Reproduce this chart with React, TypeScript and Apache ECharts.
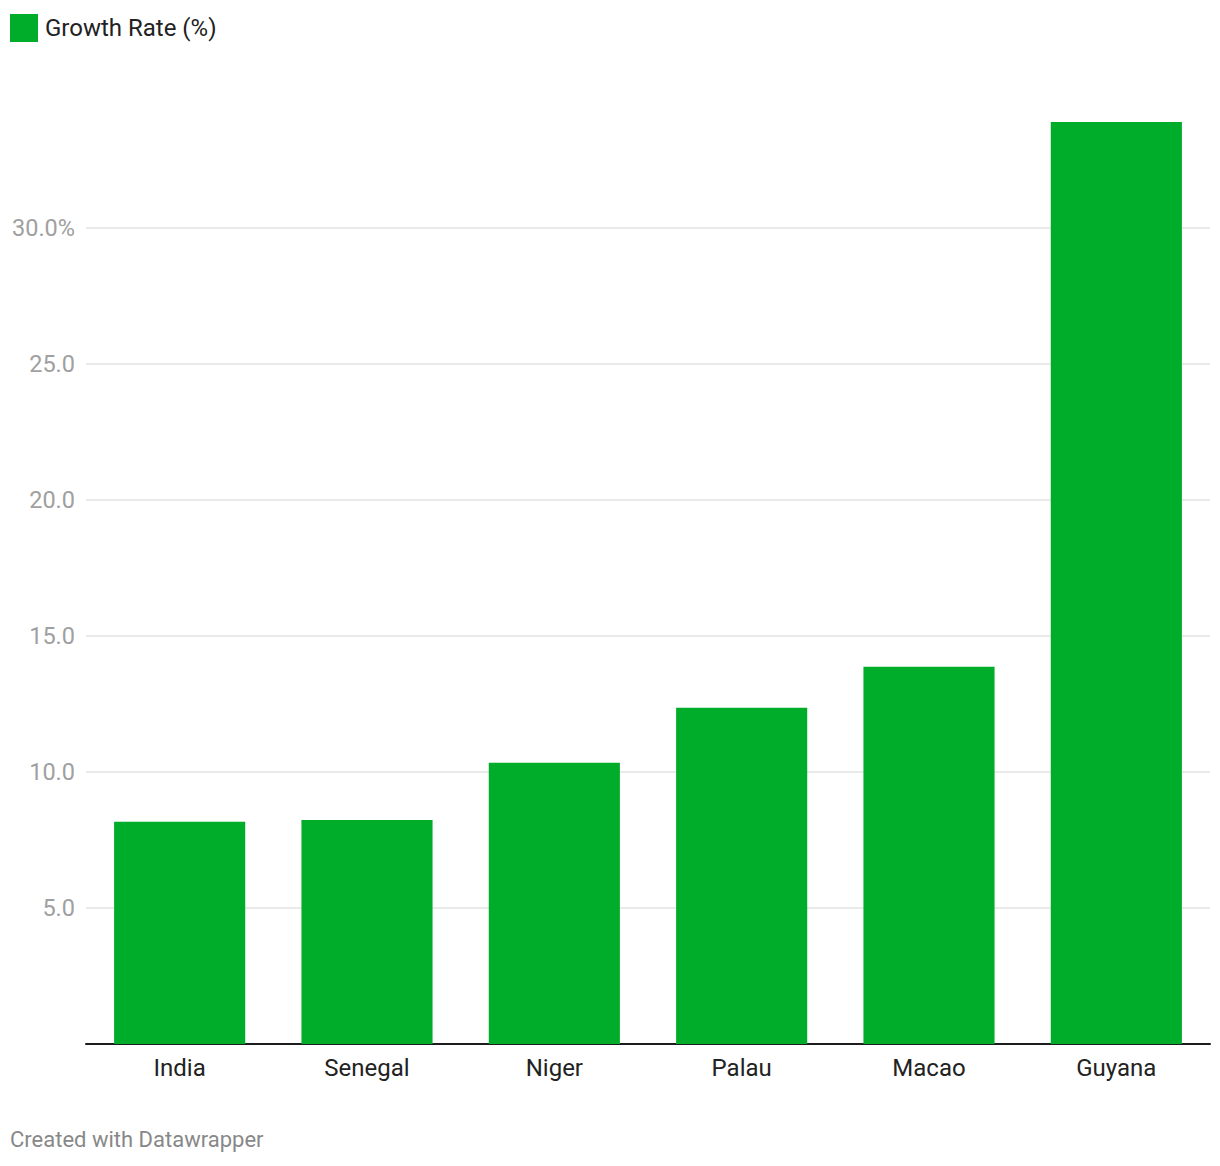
import React, { useEffect, useRef } from "react";
import * as echarts from "echarts";

const categories = ["India", "Senegal", "Niger", "Palau", "Macao", "Guyana"];
const growthRate = [8.17, 8.24, 10.34, 12.36, 13.87, 33.9];
const seriesName = "Growth Rate (%)";
const footerText = "Created with Datawrapper";

export default function App() {
  const ref = useRef<HTMLDivElement>(null);
  useEffect(() => {
    document.body.style.margin = "0";
    const chart = echarts.init(ref.current!, null, { renderer: "svg" });
    const font = "Roboto";
    chart.setOption({
      animation: false,
      backgroundColor: "#ffffff",
      textStyle: { fontFamily: font },
      legend: {
        left: 10,
        top: 14,
        itemWidth: 28,
        itemHeight: 28,
        icon: "rect",
        padding: 0,
        textStyle: { fontSize: 24, color: "#222222", fontFamily: font, padding: [0, 0, 4, 2] },
        data: [seriesName],
      },
      grid: { left: 86, right: 10, top: 122, bottom: 122, containLabel: false },
      xAxis: {
        type: "category",
        data: categories,
        axisLine: { show: true, lineStyle: { color: "#1d1d1d", width: 2 } },
        axisTick: { show: false },
        axisLabel: { color: "#222222", fontSize: 24, margin: 12, fontFamily: font },
        splitLine: { show: false },
      },
      yAxis: {
        type: "value",
        min: 0,
        max: "dataMax",
        interval: 5,
        axisLine: { show: false },
        axisTick: { show: false },
        splitLine: { show: true, showMaxLine: false, lineStyle: { color: "#e3e3e3", width: 1.5 } },
        axisLabel: {
          color: "#a0a0a0",
          fontSize: 23.5,
          margin: 11,
          fontFamily: font,
          showMaxLabel: false,
          formatter: (v: number) => (v === 0 ? "" : v === 30 ? "30.0%" : v.toFixed(1)),
        },
      },
      series: [
        {
          name: seriesName,
          type: "bar",
          data: growthRate,
          barWidth: "70%",
          itemStyle: { color: "#00ad2b" },
        },
      ],
      graphic: [
        {
          type: "text",
          left: 10,
          top: 1128,
          style: { text: footerText, fontSize: 22, fill: "#888888", fontFamily: font },
        },
      ],
    });
    return () => chart.dispose();
  }, []);
  return <div ref={ref} style={{ width: 1220, height: 1166 }} />;
}
